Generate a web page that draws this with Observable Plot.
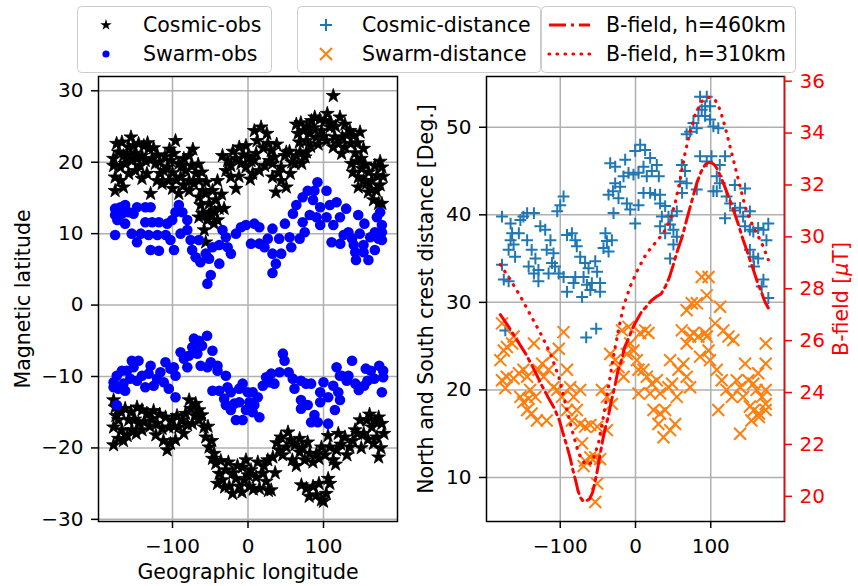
<!DOCTYPE html>
<html>
<head>
<meta charset="utf-8">
<script src="https://cdn.jsdelivr.net/npm/d3@7"></script>
<script src="https://cdn.jsdelivr.net/npm/@observablehq/plot@0.6"></script>
<style>
  body { margin: 0; background: #fff; }
  #wrap { position: relative; width: 858px; height: 586px; font-family: "DejaVu Sans", sans-serif; }
  #wrap svg { position: absolute; left: 0; top: 0; }
</style>
</head>
<body>
<div id="wrap"></div>
<script>
// ---------------- data ----------------
const lonTicks = [-100, 0, 100];
const latTicks = [-30, -20, -10, 0, 10, 20, 30];
const distTicks = [10, 20, 30, 40, 50];
const bTicks = [20, 22, 24, 26, 28, 30, 32, 34, 36];

// [geographic longitude, magnetic latitude]
const cosmicObsNorth = [[-178,20.5],[-171.6,21.4],[-164.9,20.9],[-158,22.1],[-151.6,22.3],[-144.9,22.6],[-138,22.3],[-131.6,21.9],[-178,19.5],[-169,19.3],[-162.7,19.8],[-153.8,20.2],[-147,20.5],[-140.4,20.9],[-127,20.5],[-122.7,19.8],[-176,17.9],[-169,17.4],[-176,16],[-165,16.5],[-158,18.4],[-149,18.8],[-140.4,17.7],[-133.8,18.4],[-129,15.6],[-120.4,17.4],[-116,18.4],[-111.6,18.8],[-113.8,17],[-107,19.3],[-102.7,20.2],[-96,23],[-98,21.2],[-91.6,19.8],[-85,20.5],[-78,20.9],[-82.7,18.8],[-89.3,17.9],[-105,17.4],[-100,16.3],[-91.6,15.6],[-78,17.4],[-69,18.4],[-71.6,17],[-65,17.4],[-60,16],[-78,16],
[-65,15.1],[-56,15.6],[-47,16],[-62.7,14],[-51.6,14.2],[-42.7,14.7],[-60.4,12.8],[-49.3,13],[-38.2,13.5],[-31.6,13.5],[-65,12.3],[-54,11.9],[-45,11.4],[-40.4,11.9],[-56,8.8],
[-40.4,17.4],[-33.8,20.9],[-27,20.2],[-29.3,18.8],[-22.7,19.5],[-22.7,17.9],[-16,20.5],[-11.6,22.1],[-2.7,22.3],[-9.3,19.8],[-16,16.3],[-2.7,19.3],[4,20.2],[8.4,24.4],[17.3,24.9],[10.7,21.2],[15,18.8],[6.2,18.4],[26.2,22.6],[30.7,21.6],[28.4,20.2],[35,20.7],[32.4,17.9],[36.9,15.8],[44,19.3],[48.9,20.9],[50.7,16.5],[56,18.4],[62.2,19.8],[68.9,21.4],[71.1,19.8],[75.6,20.7],[50.7,21.4],[64,20.9],[77.3,21.4],[32.4,19.8],[44,17.4],
[64,25.3],[66.2,24],[73.3,24.4],[77.3,23],[84,25.8],[88.4,26.3],[95,26],[101.8,25.8],[113,29.3],[108.4,24.9],[115,23.5],[121.8,26.3],[128.4,25.3],[135,24.4],[81.8,24],[90.7,23.5],[97.3,24.4],[104,23],[119.5,22.6],[128.4,22.1],[139.6,23.7],[148.4,24.2],[153,21.9],[112.9,22.1],[124,21.2],
[137,19.8],[144,20.1],[150.7,19.1],[139,18.6],[146.2,17.9],[153,17.4],[157,17],[146,16.5],[159.3,15.8],[175,20.1],[177.3,19.3],[170.7,18.1],[164,17.4],[166.2,14.7],[173,14.2],[177.3,14.2],
[-174,22.6],[-167,22.8],[-160,21],[-155,23.5],[-150,21.2],[-143,19.5],[-136,20.2],[-133,22.7],[-125,22],[-120,21],[-117,20],[-110,20.8],[-104,21.8],[-100,18.5],[-95,17.5],[-88,19.5],[-85,16.8],[-75,19.5],[-73,21.8],[-66,19.7],[-61,18.6],[-55,17.2],[-52,12.6],[-58,10.5],[-44,13],[-35,15.5],[-20,21.5],[-12,18],[-6,21],[0,20.8],[3,17.6],[8,20.3],[12,23],[20,22],[22,19.5],[25,24],[38,22.5],[40,18.5],[55,21.5],[58,20],[68,22.8],[70,25.5],[78,25],[83,22.2],[87,24.8],[93,22.5],[100,23.6],[105,26.8],[110,25.5],[116,25],[125,23.5],[131,23.8],[136,22.6],[142,21.3],[145,22.7],[150,20.5],[155,19.7],[160,18.6],[163,16.2],[168,19.5],[170,16],[175,16.8],[179,18]];

const cosmicObsSouth = [[-178,-13.3],[-176,-14.3],[-171.6,-16.1],[-178,-17.1],[-178,-19.6],[-171.6,-18.7],[-162.7,-14.5],[-158,-16.1],[-153.8,-17.5],[-167,-17.5],[-147,-14.3],[-140.4,-14.7],[-133.8,-15.2],[-144.9,-16.6],[-140.4,-17.5],[-127.1,-15.9],[-120.4,-16.6],[-113.8,-17.3],[-109.3,-15.7],[-104.9,-17.1],[-100.4,-16.1],[-102.7,-19.4],[-107.1,-20.3],[-96,-18.9],[-91.6,-17.1],[-87.1,-16.1],[-82.7,-15.2],[-76,-14.5],[-69.3,-13.8],[-64.9,-14.7],[-73.8,-16.6],[-64.9,-16.1],[-58.2,-17.1],[-56,-18.5],[-51.6,-19.9],[-44.9,-20.8],[-42.7,-22.2],[-38.2,-23.6],[-33.8,-24.5],[-40.4,-25],[-29.3,-23.1],[-24.9,-25.4],[-20.4,-26.4],[-16,-24.3],[-11.6,-25.4],[-4.9,-24.5],[-7.1,-22.7],[-2.7,-21.7],[1.8,-25.4],[4,-23.1],[10.7,-24.1],[15.1,-25.7],[19.6,-23.6],[26.2,-21.7],[24,-24.7],[30.7,-25.9],[32.9,-21.3],[41.3,-20.3],[43.6,-18.5],[50.7,-19.9],[56.4,-18.9],[58.7,-21.7],[68.4,-18.7],[68.4,-20.6],[75.1,-21.7],[81.8,-20.8],[90.7,-20.8],[97.3,-19.9],[108.4,-19.9],[112.9,-21.7],[119.6,-18],[128.4,-18.5],[117.3,-20.3],[135,-19.9],[141.8,-17.5],[148.4,-16.1],[157.3,-16.1],[153.3,-18],[164,-17.1],[173,-15.7],[177.3,-16.6],[170.7,-18.5],[180,-18],[173,-21.3],[166.2,-19.4],
[70.7,-25.2],[77.3,-25.7],[86.2,-25.4],[90.7,-26.6],[97.3,-27.3],[106.2,-24.3],[108.4,-25],[103.6,-26.4],
[-175,-15.5],[-168,-15],[-165,-19],[-160,-18.3],[-155,-15],[-150,-16],[-148,-18],[-137,-16.3],[-130,-17],[-125,-14.8],[-122,-18.2],[-117,-15.3],[-112,-19],[-98,-17],[-94,-15.5],[-85,-18],[-80,-16.8],[-78,-13.3],[-70,-15.5],[-61,-15.4],[-53,-17],[-48,-19],[-47,-21.5],[-36,-21.8],[-31,-25.5],[-26,-22],[-20,-23.5],[-14,-22.5],[-8,-26.2],[0,-23.8],[7,-25.8],[13,-22],[21,-22.5],[27,-26],[36,-23.5],[38,-19.3],[46,-21],[53,-17.8],[62,-19.6],[64,-22.5],[72,-20],[79,-19.2],[86,-22],[94,-21.5],[102,-21],[106,-18.3],[116,-22.3],[123,-19.5],[131,-21],[139,-19],[145,-18],[150,-20],[159,-18.8],[161,-15.3],[168,-16.3],[176,-20],[81,-26.8],[94,-25],[100,-27.5]];

const swarmObsNorth = [[-176,13.5],[-169,13.7],[-162.7,14],[-176,12.6],[-167,12.8],[-158,13],[-151.6,12.8],[-147,13.7],[-136,13.7],[-129,13.7],[-173,11.9],[-162.7,11.4],[-176,9.8],[-154,10],[-147,8.8],[-142,10],[-136,11.6],[-127,11.6],[-118,11.6],[-131.6,9.8],[-129,7.7],[-118,7.6],[-120,9.8],[-109,9.8],[-107,11.4],[-100.4,11.9],[-96,13],[-91.6,14],[-87,13],[-98,7.7],[-102.7,9.1],[-89.3,10],[-80.4,10.5],[-80.4,11.9],[-76,9.1],[-74,7.7],[-69.3,6.7],[-65,9.1],[-63,6],[-56,7.2],[-51.6,6.5],[-49.3,4.2],[-53.8,3],[-47,8.1],[-38,8.4],[-38,5.8],[-33.8,10.5],[-27,8.1],[-22.6,7.2],[-29.3,9.5],[-16,10],[-9.3,10.9],[-2.7,11.2],[4,8.6],[8.4,11.4],[15,10.9],[15,8.6],[21.8,8.1],[26.2,9.3],[32.4,7.2],[32.4,4.5],[36.9,5.8],[44,7.2],[32.4,10.7],[41.3,9.3],[48.9,11.4],[55.1,9.5],[57.3,8.1],[59.5,12.8],[68.4,9.3],[75.1,10.2],[72.4,11.6],[64,14],[72.4,15.1],[79.1,16],[88,16],[92,17.2],[104,16],[86.2,14.7],[95.6,13.7],[108.4,14],[117.3,14.4],[130,13.5],[81.8,12.6],[90.7,12.3],[95.6,11.2],[104,12.3],[113,11.2],[121.8,12.3],[110.7,8.8],[122.2,8.6],[126.7,9.8],[133,10.2],[137.8,9.3],[140,8.4],[146,12.6],[154.2,11.4],[148,10],[153,8.4],[142,7.4],[153,7.4],[143,6.3],[159.5,6.3],[161.8,9.5],[168,10.2],[177.3,10.2],[172.9,9.3],[177.3,11.2],[175,13],[170.7,12.3],[168,7.7],[177.3,9.1]];

const swarmObsSouth = [[-178,-10.8],[-178,-11.5],[-173.8,-9.9],[-167,-9.2],[-160.4,-9.2],[-153.8,-7.8],[-145,-7.8],[-151.6,-8.7],[-171.6,-11.7],[-162.7,-12],[-165,-11],[-156,-10.3],[-147,-10.6],[-140.4,-9.9],[-136,-11.5],[-129,-8.5],[-131.6,-9.6],[-124.9,-11.3],[-120.4,-10.3],[-116,-9.4],[-109.3,-8],[-111.6,-10.8],[-104.9,-11.7],[-102.7,-8.9],[-96,-9.9],[-96,-12.9],[-98.2,-8.7],[-89.3,-6.6],[-84.9,-7.5],[-78.2,-7.1],[-80.4,-8.7],[-71.6,-4.7],[-64.9,-5],[-73.8,-5.9],[-67.1,-6.8],[-60.9,-5.7],[-54.2,-4.3],[-47.1,-6.4],[-62.7,-8.5],[-53.8,-8.7],[-49.3,-8],[-40.4,-8.5],[-40.4,-9.2],[-47.1,-12],[-38.2,-12],[-29.3,-9.9],[-27.1,-11.5],[-31.6,-13.1],[-22.7,-12.2],[-29.3,-14],[-22.7,-14.7],[-18.2,-13.8],[-11.6,-13.6],[-16,-16.1],[-7.1,-16.1],[-11.6,-11.7],[-7.1,-11],[-0.4,-12.2],[6.2,-12.2],[1.8,-13.6],[8.4,-14],[-2.7,-14.7],[6.2,-15],[15.1,-15.7],[12.9,-12.9],[19.6,-11.3],[24,-10.1],[30.7,-9.6],[28.4,-10.8],[35,-11],[41.8,-9.4],[46.2,-6.8],[48.4,-7.8],[53.8,-9.4],[59.3,-10.3],[61.6,-11.7],[70.2,-10.6],[76.9,-11],[83.6,-11],[70.2,-13.3],[70.2,-14.5],[79.1,-14],[88,-15.4],[83.6,-16.4],[92.4,-16.4],[95.6,-13.6],[95.6,-12.2],[100,-10.8],[106.2,-16.6],[106.2,-12.9],[112.9,-11.3],[119.6,-12.2],[121.8,-13.3],[115.1,-14.7],[117.3,-8.7],[124,-9.9],[130.7,-10.6],[133,-9.9],[137.8,-7.8],[142.2,-11],[146.7,-11.9],[153.8,-11.3],[156,-8.9],[162.7,-9.2],[167.1,-10.3],[173.8,-8.5],[179,-9.2],[179,-10.1],[177.3,-12.2],[158.2,-10.6],[121.8,-9.9],[-173.8,-14]];

// [geographic longitude, crest distance in degrees]
const cosmicDistance = [[-177.4,39.8],[-177.4,34.3],[-175,32.6],[-168.6,32.4],[-173,26.8],[-166,39],[-164,37.9],[-166,37.1],[-162,36.6],[-168.6,36],[-160,35.2],[-153,39.4],[-149,39.8],[-144,40.2],[-135,40.2],[-155,37.9],[-144,37.1],[-138,36],[-133,35],[-142,34.1],[-129,33.7],[-135,33.3],[-129,32.4],[-126.5,38.7],[-120,38.3],[-113,37.1],[-118,36],[-109,35.6],[-111,34.5],[-107,34.1],[-102,33.3],[-115.5,33.3],[-95.6,32.9],[-91,31.2],[-82.3,32.2],[-80,32.9],[-91,37.7],[-84.5,37.9],[-80,37.1],[-78,36.4],[-104,40.4],[-100,41.1],[-95.6,42.1],[-73.5,35.2],[-67,34.5],[-62.4,33.9],[-69,32.9],[-64.6,32],[-58,32.2],[-71,30.6],[-60,31.4],[-51,33.5],[-53.5,34.7],[-47,32.2],[-47,31.2],[-40,37.9],[-38,37],[-42.5,36.2],[-31.4,37.1],[-35.8,35.8],[-65.5,26],[-52.2,27],
[-33.6,45.9],[-27,45.5],[-35.8,42.3],[-30,42.7],[-27,43.6],[-20.4,43.2],[-22.6,41.9],[-29.2,40.2],[-15.9,44.4],[-13.7,46.3],[-9.3,44.8],[-2.7,44.6],[-11.5,41.3],[-7,40.6],[-0.4,39],[4,41.1],[-0.4,47.3],[6.2,48],[12.8,47.4],[19.5,46.5],[10.6,45.5],[4,44.8],[15,44.4],[21.7,45],[28.3,45.7],[31,44.4],[10.6,42.5],[19.5,42.5],[26,42.3],[32.7,42.3],[32.7,41.3],[39.4,41],[35,39.8],[43.8,39.8],[48.2,39.9],[54.9,40.4],[32.7,38.7],[39.4,37.9],[46,38.9],[50.4,38.3],[54.9,37.5],[50.4,36.6],[46,35],
[61.5,45.7],[65.9,45],[59.3,43.8],[68,43.6],[61.9,42.5],[81.4,42.9],[85.8,46.7],[94.7,46.1],[101,46.7],[112,45.7],[119,46.7],[108,44.4],[112,43.6],[103.5,42.7],[108,42.7],[121,42.1],[132,43.4],[145.6,43],[125.7,41.3],[132.3,40.5],[119,39.6],[139,40.8],[143,39.8],[152,40.4],[145.6,38.7],[152,38.3],[156.6,38.1],[163,38.5],[170,38.3],[176.5,39],[174,37.1],[152,36],[156.6,35.2],[163,35],[157.5,34.1],[170,32.6],[167.7,31.8],[176.5,30.5],
[68,49.2],[72.6,49.5],[77,50.5],[83.6,51.3],[85.8,53.5],[94.7,53.5],[92.5,52.4],[99,52.4],[92.5,51.3],[99,50.9],[103.5,50.1],[110,49.9],[81.4,49.9],[88,52]];

const swarmDistance = [[-177.4,27.6],[-175,24.5],[-179.6,23.4],[-171,24.9],[-164,25.3],[-162,26.1],[-177.4,21.1],[-171,21.5],[-173,20.2],[-162,21.3],[-155,21.9],[-149,22.3],[-144,21.5],[-153,19.2],[-149,18.6],[-142,19],[-135,25.3],[-140,20],[-133,19.2],[-129,22.3],[-124,23],[-122,21.5],[-144,17.7],[-138,17.3],[-131,16.5],[-118,16.5],[-115.5,22.3],[-109,20.3],[-104,20],[-111,24],[-102,24.7],[-95.6,26.6],[-91,22.3],[-86.7,20.3],[-97.8,19.2],[-91,17.7],[-82.3,19.2],[-78,17.7],[-73.5,20],[-84.5,16.5],[-73.5,16.1],[-67,15.8],[-60,16],[-51,15.8],[-38,15.4],[-71,13.9],[-67,11.9],[-60,12.3],[-53.5,12.3],[-47,12.1],[-69,11.3],[-51,9.3],[-53.5,7.2],
[-44.7,20],[-38,19.2],[-31.4,18.4],[-33.6,24.1],[-27,23.4],[-22.6,22.6],[-18,26.8],[-9.3,27.2],[-15.9,21.5],[-11.5,24.1],[-7,25.3],[-2.7,24.5],[1.8,23.4],[4,22.3],[6.2,26.5],[12.8,26.8],[17.3,26.5],[10.6,22.3],[15,21.5],[21.7,20.7],[28.3,21.1],[19.5,19.6],[32.7,19.6],[4,19.6],[23.9,17.7],[32.7,17.3],[39.4,17.7],[30.5,16.1],[37.2,14.6],[43.8,20.3],[48.6,20.7],[54.9,19.2],[46,23.4],[57.1,22.3],[63.7,23],[52.7,16.1],[46,15.4],[68,21.5],[72.6,20.3],
[61.5,26.8],[68,25.3],[72.6,26.1],[77,26.5],[83.6,26.1],[92.5,26.5],[94.7,26.1],[97,24.5],[68,29.1],[74.8,29.9],[81.4,29.9],[88,32.9],[97,32.9],[94.7,30.8],[85.8,23.8],[99,23.4],[105.8,27.6],[112.4,29.5],[116.8,26.8],[123.5,26.1],[130,25.7],[108,22.3],[114.6,21.1],[121,20],[128,19.2],[110,17.7],[134.5,21.1],[139,20.3],[145.6,23],[143,19.2],[150,21.1],[156.6,20.7],[161,20],[152,18.1],[157.5,17.7],[164,17.3],[173,17.7],[173,20],[173,23],[173,25.3],[139,15],[154,16.5],[168,19.2],[163,21.9],[173,18.4],[164,16.9]];

// [geographic longitude, B-field in microtesla]
const bField460 = [[-179.6,27.0],[-170,26.6],[-157,26.0],[-145,25.45],[-134,24.84],[-125,24.3],[-116,23.81],[-108,23.4],[-101,22.92],[-96,22.4],[-92,22.02],[-87,21.5],[-83,20.99],[-79,20.55],[-76.5,20.22],[-73,19.95],[-70,19.83],[-66,19.82],[-61,19.9],[-57,20.15],[-54.4,20.48],[-51,20.95],[-47.8,21.5],[-44,22.1],[-41,22.53],[-36,23.1],[-32,23.69],[-27,24.3],[-23.4,24.84],[-18,25.3],[-14.6,25.74],[-9,26.1],[-3.5,26.51],[2,26.8],[7.6,27.09],[14,27.3],[20.8,27.54],[28,27.7],[34,27.8],[40,28.1],[45,28.44],[50,28.9],[55,29.4],[62,30.0],[68,30.66],[75,31.4],[81.4,32.07],[87,32.5],[92.5,32.78],[97,32.87],[100,32.87],[104,32.8],[108,32.65],[112,32.4],[116.8,32.07],[123,31.6],[130,31.05],[137,30.45],[143,29.89],[150,29.3],[156.6,28.73],[162,28.25],[167.7,27.84],[172,27.5],[176.5,27.26]];

const bField310 = [[-179.6,28.93],[-166.4,28.35],[-153,27.71],[-139.8,27.0],[-126.5,26.3],[-113.3,25.52],[-102.2,24.63],[-93.4,23.6],[-84.5,22.57],[-75.7,21.67],[-66.8,21.22],[-58,21.29],[-49.1,22.06],[-42.5,23.09],[-35.8,24.24],[-29.2,25.4],[-22.6,26.42],[-15.9,27.32],[-7.1,28.09],[4,28.8],[15,29.38],[26.1,29.76],[37.2,30.15],[46,30.66],[52.7,31.3],[59.3,32.2],[65.9,33.23],[72.6,34.06],[79.2,34.7],[88,35.22],[96.9,35.38],[105.8,35.28],[112.4,34.9],[119,34.25],[125.7,33.48],[132.3,32.71],[139,31.94],[145.6,31.17],[152.2,30.66],[158.8,30.27],[167.7,29.76],[176.5,29.12]];

// ---------------- layout ----------------
const W = 858, H = 586;
const FS = 20.5;      // label / legend font size
const TFS = 20;       // tick label font size
const gridColor = "#b0b0b0";
const dashDot = "17,5,3,5";
const dotted = "0.6,7.4";
const fmt = d => (d < 0 ? "\u2212" + Math.abs(d) : String(d));
const common = {
  width: W, height: H, marginTop: 76, marginBottom: 65,
  style: {background: "transparent", fontSize: TFS + "px", fontFamily: "DejaVu Sans, sans-serif", color: "black", overflow: "visible"}
};
const xScale = {domain: [-198, 198], axis: null};

const leftPlot = Plot.plot({
  ...common, marginLeft: 98, marginRight: W - 397,
  x: xScale, y: {domain: [-30.3, 32], axis: null},
  marks: [
    Plot.gridX({ticks: lonTicks, stroke: gridColor, strokeOpacity: 1, strokeWidth: 1.5}),
    Plot.gridY({ticks: latTicks, stroke: gridColor, strokeOpacity: 1, strokeWidth: 1.5}),
    Plot.dot(cosmicObsNorth.concat(cosmicObsSouth), {x: d => d[0], y: d => d[1], symbol: "star", r: 4.4, fill: "black", stroke: "black", strokeWidth: 0.8}),
    Plot.dot(swarmObsNorth.concat(swarmObsSouth), {x: d => d[0], y: d => d[1], symbol: "circle", r: 5.3, fill: "blue", stroke: "none"}),
    Plot.frame({stroke: "black", strokeWidth: 1.5}),
    Plot.axisX({ticks: lonTicks, tickFormat: fmt, tickSize: 7, tickPadding: 10, strokeWidth: 1.5, label: null}),
    Plot.axisY({ticks: latTicks, tickFormat: fmt, tickSize: 7, tickPadding: 8, strokeWidth: 1.5, label: null}),
    Plot.text(["Geographic longitude"], {frameAnchor: "bottom", lineAnchor: "top", dy: 43, fontSize: FS}),
    Plot.text(["Magnetic latitude"], {frameAnchor: "left", rotate: -90, textAnchor: "middle", lineAnchor: "middle", dx: -75, fontSize: FS})
  ]
});

const rightPlot = Plot.plot({
  ...common, marginLeft: 486, marginRight: W - 784,
  x: xScale, y: {domain: [4.97, 55.8], axis: null},
  marks: [
    Plot.gridX({ticks: lonTicks, stroke: gridColor, strokeOpacity: 1, strokeWidth: 1.5}),
    Plot.gridY({ticks: distTicks, stroke: gridColor, strokeOpacity: 1, strokeWidth: 1.5}),
    Plot.dot(cosmicDistance, {x: d => d[0], y: d => d[1], symbol: "plus", r: 3.9, stroke: "#1f77b4", fill: "none", strokeWidth: 2}),
    Plot.dot(swarmDistance, {x: d => d[0], y: d => d[1], symbol: "times", r: 5.5, stroke: "#ff7f0e", fill: "none", strokeWidth: 2}),
    Plot.frame({stroke: "black", strokeWidth: 1.5}),
    Plot.axisX({ticks: lonTicks, tickFormat: fmt, tickSize: 7, tickPadding: 10, strokeWidth: 1.5, label: null}),
    Plot.axisY({ticks: distTicks, tickFormat: fmt, tickSize: 7, tickPadding: 8, strokeWidth: 1.5, label: null}),
    Plot.text(["North and South crest distance [Deg.]"], {frameAnchor: "left", rotate: -90, textAnchor: "middle", lineAnchor: "middle", dx: -60, fontSize: FS})
  ]
});

const bPlot = Plot.plot({
  ...common, marginLeft: 486, marginRight: W - 784,
  x: xScale, y: {domain: [19.03, 36.18], axis: null},
  marks: [
    Plot.line(bField460, {x: d => d[0], y: d => d[1], stroke: "red", strokeWidth: 3, strokeDasharray: dashDot}),
    Plot.line(bField310, {x: d => d[0], y: d => d[1], stroke: "red", strokeWidth: 3.2, strokeDasharray: dotted, strokeLinecap: "round"}),
    Plot.ruleX([198], {stroke: "red", strokeWidth: 1.5}),
    Plot.axisY({ticks: bTicks, anchor: "right", tickFormat: fmt, tickSize: 7, tickPadding: 8, strokeWidth: 1.5, color: "red", label: null}),
    Plot.text(["B-field [\u03bcT]"], {frameAnchor: "right", rotate: -90, textAnchor: "middle", lineAnchor: "middle", dx: 57, fill: "red", fontSize: FS})
  ]
});

const wrap = document.getElementById("wrap");
wrap.appendChild(leftPlot);
wrap.appendChild(rightPlot);
wrap.appendChild(bPlot);

// italic mu in the B-field label
d3.select(bPlot).selectAll("text").filter(function () { return this.textContent === "B-field [\u03bcT]"; })
  .each(function () {
    const t = d3.select(this);
    t.text(null);
    t.append("tspan").text("B-field [");
    t.append("tspan").attr("font-style", "italic").text("\u03bc");
    t.append("tspan").text("T]");
  });

// ---------------- legends ----------------
const leg = d3.select(wrap).append("svg").attr("width", W).attr("height", 80)
  .style("font-family", "DejaVu Sans, sans-serif").style("font-size", FS + "px");
const boxes = [[77, 194], [297, 243], [541, 254]];
boxes.forEach(([x, w]) => leg.append("rect").attr("x", x + 0.5).attr("y", 6.5).attr("width", w).attr("height", 66)
  .attr("rx", 4).attr("fill", "white").attr("fill-opacity", 0.8).attr("stroke", "#cccccc"));
const rows = [25, 54];
leg.append("path").attr("d", d3.symbol(d3.symbolStar, 40)()).attr("transform", `translate(106,${rows[0]})`).attr("fill", "black");
leg.append("circle").attr("cx", 106).attr("cy", rows[1]).attr("r", 3.6).attr("fill", "blue");
leg.append("path").attr("d", "M-6,0H6M0,-6V6").attr("transform", `translate(326,${rows[0]})`).attr("stroke", "#1f77b4").attr("stroke-width", 2);
leg.append("path").attr("d", "M-6,-6L6,6M-6,6L6,-6").attr("transform", `translate(326,${rows[1]})`).attr("stroke", "#ff7f0e").attr("stroke-width", 2);
leg.append("line").attr("x1", 549).attr("x2", 590).attr("y1", rows[0]).attr("y2", rows[0]).attr("stroke", "red").attr("stroke-width", 3).attr("stroke-dasharray", dashDot);
leg.append("line").attr("x1", 549).attr("x2", 590).attr("y1", rows[1]).attr("y2", rows[1]).attr("stroke", "red").attr("stroke-width", 3.2).attr("stroke-dasharray", dotted).attr("stroke-linecap", "round");
const labels = [["Cosmic-obs", 143, 0], ["Swarm-obs", 143, 1], ["Cosmic-distance", 362, 0], ["Swarm-distance", 362, 1], ["B-field, h=460km", 606, 0], ["B-field, h=310km", 606, 1]];
labels.forEach(([t, x, r]) => leg.append("text").attr("x", x).attr("y", rows[r]).attr("dy", "0.35em").text(t));
</script>
</body>
</html>
